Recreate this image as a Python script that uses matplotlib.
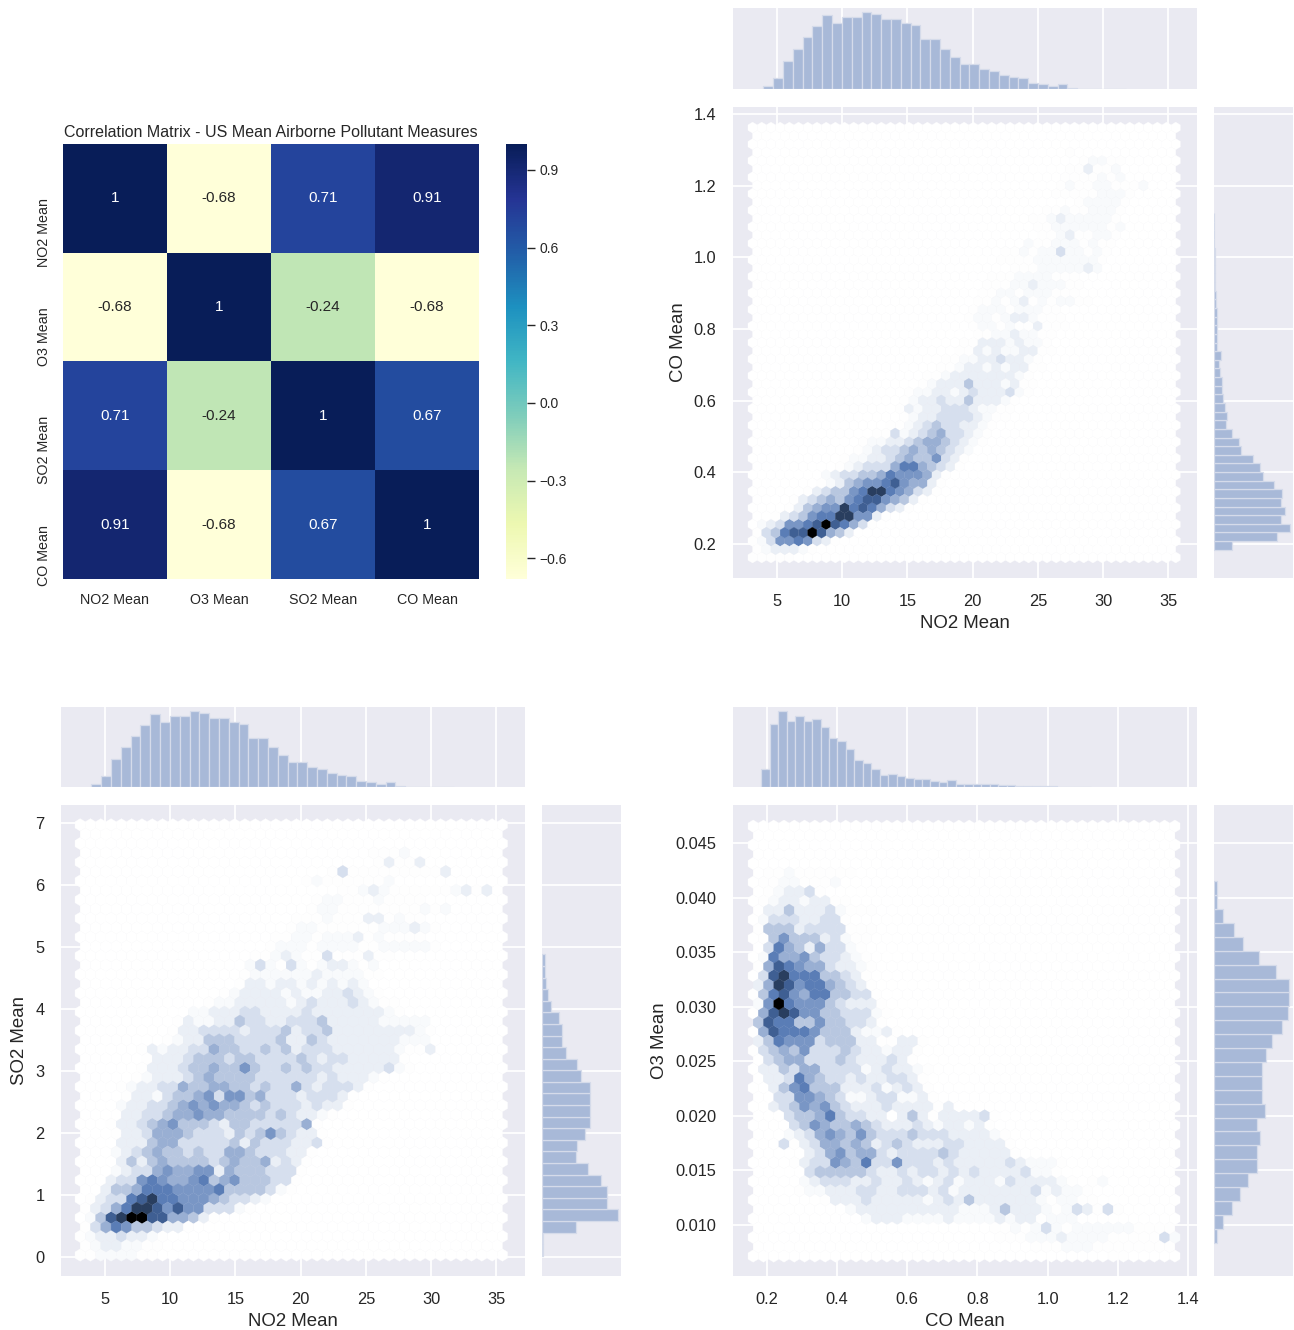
import colorsys
import matplotlib
matplotlib.use("Agg")
import matplotlib.pyplot as plt
from matplotlib.colors import LinearSegmentedColormap
from matplotlib.ticker import FormatStrFormatter
import numpy as np
import seaborn as sns

plt.rcParams['font.family'] = ['Liberation Sans', 'DejaVu Sans']
plt.rcParams['text.color'] = '.15'
plt.rcParams['axes.labelcolor'] = '.15'
plt.rcParams['xtick.color'] = '.15'
plt.rcParams['ytick.color'] = '.15'

W, H = 1294, 1330

# --- correlation matrix ---
pollutants = ['NO2 Mean', 'O3 Mean', 'SO2 Mean', 'CO Mean']
corr_no2 = [1, -0.68, 0.71, 0.91]
corr_o3 = [-0.68, 1, -0.24, -0.68]
corr_so2 = [0.71, -0.24, 1, 0.67]
corr_co = [0.91, -0.68, 0.67, 1]
cbar_ticks = [-0.6, -0.3, 0.0, 0.3, 0.6, 0.9]

# --- marginal histograms (bin start, bin step, relative heights) ---
no2_start, no2_step = 4.33, 0.752
no2_hist = [9, 33, 84, 121, 154, 188, 220, 196, 215, 214, 229, 224, 210, 210, 196, 191, 149, 149,
            121, 97, 75, 75, 61, 55, 42, 37, 32, 18, 14, 9, 14, 2, 1, 1, 1, 1, 1]
co_start, co_step = 0.196, 0.0241
co_hist = [54, 191, 229, 201, 215, 201, 205, 182, 149, 140, 116, 81, 74, 53, 37, 39, 34, 28, 25, 25,
           17, 16, 20, 9, 10, 9, 10, 8, 7, 6, 4, 4, 4, 4, 3, 1, 1, 1, 1]
so2_start, so2_step = 0.113, 0.187
so2_hist = [4, 4, 101, 228, 196, 196, 177, 139, 101, 106, 130, 144, 144, 144, 144, 116, 106, 73,
            60, 60, 50, 27, 17, 13, 8, 8]
o3_start, o3_step = 0.00902, 0.001274
o3_hist = [8, 28, 55, 79, 102, 130, 130, 140, 130, 154, 144, 144, 144, 158, 176, 204, 223, 227,
           227, 186, 135, 88, 60, 27, 8, 8]

# --- hexbin cells: (row from the top, first column, shade per column)
# shade: . none, a and b very faint, 1 to 9 darker
no2_co_cells = [
    (3, 34, "a"), (4, 36, "abbaa"), (5, 34, "aa1aab"), (6, 34, "aaaabab"), (7, 33, "abaabbaaab"),
    (8, 33, "aaaaabbba"), (9, 35, "abbbba"), (10, 32, "aabaabbba"), (11, 30, "aab1bbbbba"),
    (12, 31, "aabbbbbbab"), (13, 31, "aab1aabba"), (14, 30, "baabbbabaa"), (15, 27, "aababb2bbaba"),
    (16, 27, "aaaabbbbbbba"), (17, 28, "aaabbbbb1b"), (18, 26, "aaabbbbaaa"), (19, 25, "aaabb1bbbaa"),
    (20, 25, "aabbabbbaaa"), (21, 24, "aabab1ababbaa"), (22, 24, "abbbabbbaa"), (23, 23, "abbab11baaa"),
    (24, 24, "abbabaa1aaa"), (25, 24, "aabb1bbaa"), (26, 23, "aa111b1bba"), (27, 22, "aa1b1bb11aa"),
    (28, 21, "aabb11211ba"), (29, 20, "aab11b1b11aa"), (30, 19, "aab1111111ba"),
    (31, 18, "ab1113111b1aa"), (32, 17, "abb11b121112ba"), (33, 16, "ab112113111ba"),
    (34, 16, "a1b112221bbaa"), (35, 16, "ab1122221baa"), (36, 15, "aab1232211ba"),
    (37, 13, "aa2b1234221ba"), (38, 12, "abb112344321ba"), (39, 11, "ab1223434321b"),
    (40, 10, "abb1123433521a"), (41, 9, "ab12224664321a"), (42, 8, "b122334655541a"),
    (43, 7, "ab13455675441a"), (44, 6, "a1233568865421a"), (45, 4, "a1234356775431a"),
    (46, 4, "a134558676421a"), (47, 2, "a12356688551a"), (48, 1, "b12556797642a"),
    (49, 0, "a2367797431"), (50, 0, "ab2556521a"), (51, 0, "ab111ba"), (52, 0, "aaaaa"),
]
no2_so2_cells = [
    (3, 28, "aaab"), (4, 29, "a1aa1"), (5, 24, "a2aaaaaaaaa1"), (6, 22, "abaaaaaab"),
    (7, 25, "aab1baaaaaab1a1"), (8, 23, "abbaaabaaaa"), (9, 22, "abbaaaaaaaabab"),
    (10, 21, "aaabaaa11abaa"), (11, 20, "abbaaaaaabbb1ba"), (12, 19, "aabbabbb1abaaaa"),
    (13, 18, "abbbabbbbaabbbbba"), (14, 17, "aab1baa2aaa1aa"), (15, 16, "b2ba2bab11bab"),
    (16, 16, "abbbbbb1bbbbaa"), (17, 15, "a11b11b1b1b1b"), (18, 14, "ab1111b1bb1121ba"),
    (19, 12, "abb11111b1211121baa"), (20, 11, "bb11122111121111111ba"),
    (21, 9, "a1bb1132211222311111bbbbb"), (22, 9, "a11222212223122311111111ba"),
    (23, 8, "ab113332222311321111111bbb"), (24, 6, "a1b1122433223231222111111baa1"),
    (25, 6, "a111233323322223212211111a"),
    (26, 6, "a111233433532232322111112ba"), (27, 5, "ab111234333322222212111ba"),
    (28, 4, "ab1122433443323224212221a"), (29, 4, "a11b233452553422212221a"),
    (30, 4, "b112234545443232221211a"), (31, 4, "1122344544333323211ba"),
    (32, 3, "a1123453332133222224a"), (33, 3, "a1124443222132353211a"),
    (34, 4, "11134422222313222112a"), (35, 3, "b123433232244322211a"),
    (36, 4, "131343333234334121a"), (37, 3, "b12245445514333222a"),
    (38, 3, "122565445634533322a"), (39, 2, "13346665555633332ba"),
    (40, 1, "a1226786655543221b"), (41, 0, "a12468875755222ba"), (42, 1, "b37899774431a"),
    (43, 0, "a246533211a"), (44, 0, "ab11211ba"), (45, 0, "ab11bbaa"), (46, 0, "aabbbbaa"),
]
co_o3_cells = [
    (5, 1, "aabaaaaaa"), (6, 1, "aabbaaab"), (7, 1, "ab112a"), (8, 1, "ab11b11aa"),
    (9, 1, "1131112baaa"), (10, 1, "b2221122a"), (11, 0, "a33312222aaa"), (12, 1, "a3533312baa"),
    (13, 1, "26431422ba"), (14, 1, "b64453221ba"), (15, 0, "a476544211ba"), (16, 1, "2786663321a"),
    (17, 0, "14875664321a"), (18, 0, "a36754663322a"), (19, 0, "b59655532111a"),
    (20, 0, "a47875533222ba"), (21, 0, "376633533221a"), (22, 0, "a4766653331bb1a"),
    (23, 0, "136555233311aa11a"), (24, 0, "a234352223211b11a"), (25, 1, "23442223211121a"),
    (26, 1, "1132442222b1211ba"), (27, 1, "112643221211221a"), (28, 2, "13563331112b121a"),
    (29, 2, "2255432bb122bb1a"), (30, 2, "1235453211121111a1"), (31, 3, "2334632211.131a11112a"),
    (32, 4, "23543343211121b11b1a"), (33, 3, "b1245435322232221111ba"),
    (34, 3, "2a12443431232111221111a"), (35, 5, "12453442122223211111a"),
    (36, 4, "a1225436225222121111121bbba"), (37, 5, "2333332112122121211112bba"),
    (38, 5, "b12221121121b12b111b21111ba.ab"), (39, 4, "abb111221122212b11111112b1bba"),
    (40, 7, "a111211111b1213111111babbaa"),
    (41, 9, "b1111111111bbb13111bab21a2a"), (42, 11, "b111bbbb1bbbb1b11abbb"),
    (43, 23, "aabab2babbbbbbaaaaa"), (44, 24, "aaabbb1bbbbaaaaa2b"), (45, 27, "aaabbbaaaaaaaaab"),
    (46, 35, "aa"),
]

# hexagon grid of each panel: columns, rows, data extent
no2_co_grid = (46, 26, (3.12, 35.57, 0.1623, 1.3624))
no2_so2_grid = (41, 23, (3.09, 35.47, 0.032, 6.97))
co_o3_grid = (41, 23, (0.1605, 1.363, 0.00716, 0.04656))

SHADES = {'.': 0.0, 'a': 0.06, 'b': 0.2, '1': 0.55, '2': 1.05, '3': 1.8, '4': 2.6,
          '5': 3.4, '6': 4.2, '7': 5.3, '8': 6.6, '9': 9.0}

base_h, base_l, base_s = colorsys.rgb_to_hls(0x4C / 255, 0x72 / 255, 0xB0 / 255)
hex_cmap = LinearSegmentedColormap.from_list(
    'hexblue', [colorsys.hls_to_rgb(base_h, l, base_s) for l in np.linspace(1, 0, 12)])
BG = '#EAEAF2'
BAR = '#A8B9D8'
BAR_EDGE = '#D5DBEA'


def axes_px(x0, y0, x1, y1):
    return fig.add_axes([x0 / W, 1 - y1 / H, (x1 - x0) / W, (y1 - y0) / H])


def lattice(cells, grid):
    nx, ny, (xmin, xmax, ymin, ymax) = grid
    sx, sy = (xmax - xmin) / nx, (ymax - ymin) / ny
    shade = {}
    for r, first, text in cells:
        for k, ch in enumerate(text):
            shade[(r, first + k)] = SHADES[ch]
    xs, ys, vs = [], [], []
    for r in range(2 * ny + 1):
        odd = r % 2
        for i in range(nx + 1 - odd):
            xs.append(xmin + (i + 0.5 * odd) * sx)
            ys.append(ymax - r * sy / 2)
            vs.append(shade.get((r, i), 0.0))
    return xs, ys, vs


def joint(px, xlabel, ylabel, xticks, yticks, xlim, ylim, xfmt, yfmt, cells, grid,
          tophist, sidehist, ylabel_x):
    x0, y0, x1, y1, mtop0, mtop1, ms0, ms1 = px
    ax = axes_px(x0, y0, x1, y1)
    ax.set_facecolor(BG)
    ax.set_axisbelow(True)
    ax.grid(True, color='white', lw=1.3)
    for s in ax.spines.values():
        s.set_visible(False)
    xs, ys, vs = lattice(cells, grid)
    nx, ny, extent = grid
    ax.hexbin(xs, ys, C=vs, gridsize=(nx, ny), extent=extent, cmap=hex_cmap, vmin=0, vmax=9,
              linewidths=0.2, edgecolors='face', zorder=2)
    ax.set_xticks(xticks)
    ax.set_yticks(yticks)
    ax.set_xlim(*xlim)
    ax.set_ylim(*ylim)
    ax.xaxis.set_major_formatter(FormatStrFormatter(xfmt))
    ax.yaxis.set_major_formatter(FormatStrFormatter(yfmt))
    ax.tick_params(axis='x', length=0, labelsize=11.8, pad=11.5)
    ax.tick_params(axis='y', length=0, labelsize=11.8, pad=12)
    ax.set_xlabel(xlabel, fontsize=13.4, labelpad=4.5)
    ax.set_ylabel(ylabel, fontsize=13.4)
    ax.yaxis.set_label_coords((ylabel_x + 11 - x0) / (x1 - x0), 0.5)

    top = axes_px(x0, mtop0, x1, mtop1)
    top.set_facecolor(BG)
    top.set_axisbelow(True)
    top.grid(True, axis='x', color='white', lw=1.3)
    start, step, vals = tophist
    top.bar(start + step * np.arange(len(vals)), vals, width=step, color=BAR,
            edgecolor=BAR_EDGE, lw=0.9)
    top.set_xticks(xticks)
    top.set_xlim(*xlim)
    top.set_ylim(0, 242)
    top.set_yticks([])
    top.tick_params(length=0, labelbottom=False)

    side = axes_px(ms0, y0, ms1, y1)
    side.set_facecolor(BG)
    side.set_axisbelow(True)
    side.grid(True, axis='y', color='white', lw=1.3)
    start, step, vals = sidehist
    side.barh(start + step * np.arange(len(vals)), vals, height=step, color=BAR,
              edgecolor=BAR_EDGE, lw=0.9)
    side.set_yticks(yticks)
    side.set_ylim(*ylim)
    side.set_xlim(0, 238)
    side.set_xticks([])
    side.tick_params(length=0, labelleft=False)
    for a in (top, side):
        for s in a.spines.values():
            s.set_visible(False)


fig = plt.figure(figsize=(W / 100, H / 100), dpi=100, facecolor='white')

# correlation heatmap
hm_ax = axes_px(63, 144, 479, 579)
cb_ax = axes_px(506, 144, 527, 579)
matrix = np.array([corr_no2, corr_o3, corr_so2, corr_co])
sns.heatmap(matrix, annot=True, cmap='YlGnBu', ax=hm_ax, cbar_ax=cb_ax,
            xticklabels=pollutants, yticklabels=pollutants, vmin=-0.68, vmax=1,
            annot_kws={'size': 11})
hm_ax.tick_params(axis='x', length=0, labelsize=10.3, pad=10)
hm_ax.tick_params(axis='y', length=0, labelsize=10.3, pad=9)
for t in hm_ax.get_yticklabels():
    t.set_rotation(90)
    t.set_va('top')
hm_ax.set_title('Correlation Matrix - US Mean Airborne Pollutant Measures', fontsize=11.5, pad=5)
cb_ax.set_yticks(cbar_ticks)
cb_ax.set_yticklabels(['\u2212%.1f' % abs(v) if v < 0 else '%.1f' % v for v in cbar_ticks])
cb_ax.tick_params(labelsize=10, length=6, width=1, pad=3, color='.15')
for s in cb_ax.spines.values():
    s.set_visible(False)

no2_ticks = [5, 10, 15, 20, 25, 30, 35]
co_ticks = [0.2, 0.4, 0.6, 0.8, 1.0, 1.2, 1.4]
so2_ticks = [0, 1, 2, 3, 4, 5, 6, 7]
o3_ticks = [0.010, 0.015, 0.020, 0.025, 0.030, 0.035, 0.040, 0.045]

joint((733, 107, 1197, 578, 8, 89, 1214, 1293), 'NO2 Mean', 'CO Mean', no2_ticks, co_ticks,
      (1.62, 37.2), (0.105, 1.42), '%d', '%.1f', no2_co_cells, no2_co_grid,
      (no2_start, no2_step, no2_hist), (co_start, co_step, co_hist), 676)
joint((61, 805, 525, 1276, 707, 787, 542, 621), 'NO2 Mean', 'SO2 Mean', no2_ticks, so2_ticks,
      (1.62, 37.2), (-0.306, 7.29), '%d', '%d', no2_so2_cells, no2_so2_grid,
      (no2_start, no2_step, no2_hist), (so2_start, so2_step, so2_hist), 17)
joint((733, 805, 1197, 1276, 707, 787, 1214, 1293), 'CO Mean', 'O3 Mean', co_ticks, o3_ticks,
      (0.103, 1.426), (0.00533, 0.0485), '%.1f', '%.3f', co_o3_cells, co_o3_grid,
      (co_start, co_step, co_hist), (o3_start, o3_step, o3_hist), 657)

fig.savefig('out.png', dpi=100, facecolor='white')
